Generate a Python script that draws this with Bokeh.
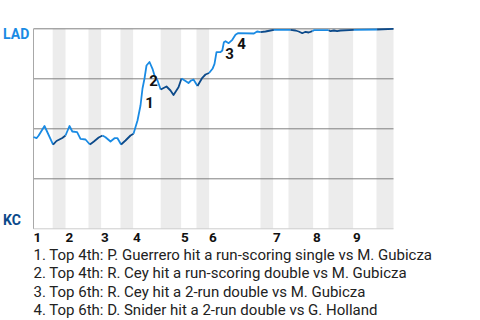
from bokeh.plotting import figure
from bokeh.models import Range1d, Label
from bokeh.embed import file_html
from bokeh.resources import INLINE

# ---- data ----
teams = ["LAD", "KC"]
team_colors = ["#1a8be4", "#0c4a8a"]
innings = ["1", "2", "3", "4", "5", "6", "7", "8", "9"]
# play index where each half-inning starts
top_start = [0, 8, 16.9, 24.9, 36.9, 43.9, 59.9, 69.9, 79.9]
bottom_start = [4.8, 13.75, 21.75, 31.8, 40.75, 56.75, 63.75, 73.75, 85.75]
game_end = 90

play_x = [0, 0.75, 1.3, 2.75, 4.9, 5.75, 7.2, 8, 9, 9.7, 10.9, 11.75, 13, 14.1, 15.1,
          16.3, 17.25, 18, 19.25, 20.25, 21, 21.9, 23, 24.25, 25, 26, 26.75, 27.25,
          27.75, 28.25, 29, 29.75, 30.25, 31, 31.8, 33.25, 34.25, 35, 36.25, 37, 38,
          38.75, 39.4, 40, 41, 42.2, 43, 43.9, 44.75, 45.25, 45.75, 46.75, 47.2, 47.6,
          48, 48.8, 49.7, 50.5, 51.1, 55.1, 55.9, 56.75, 58, 59.25, 60.1, 64.25, 65.5,
          66.3, 67.2, 68, 68.8, 69.7, 70.1, 73.8, 74.25, 75.1, 75.9, 76.75, 80.1, 85.9, 90]
win_prob = [45.9, 45.3, 46.65, 51.4, 42.05, 43.9, 45.4, 46.65, 51.4, 48.65, 48.3, 45.0,
            44.65, 42.15, 43.65, 45.65, 46.65, 45.8, 43.65, 45.3, 45.3, 42.15, 44.15,
            46.65, 47.5, 54.15, 61.65, 70.15, 75.15, 81.65, 83.4, 80.0, 76.65, 74.15,
            69.65, 71.15, 69.15, 66.9, 70.8, 75.15, 73.9, 72.9, 74.15, 74.65, 71.4,
            75.5, 77.15, 77.9, 80.0, 82.5, 88.3, 88.3, 89.15, 93.3, 93.8, 92.8, 94.5,
            97.0, 97.8, 97.65, 98.65, 98.3, 98.65, 99.15, 99.5, 99.5, 99.15, 98.65,
            97.8, 98.5, 98.15, 98.8, 99.3, 99.3, 98.8, 99.15, 98.8, 99.15, 99.5, 99.65,
            100]

event_labels = ["1", "2", "3", "4"]
event_x = [29, 30, 49, 52]
event_wp = [63.2, 74.2, 87.9, 92.7]

notes = [
    "1. Top 4th: P. Guerrero hit a run-scoring single vs M. Gubicza",
    "2. Top 4th: R. Cey hit a run-scoring double vs M. Gubicza",
    "3. Top 6th: R. Cey hit a 2-run double vs M. Gubicza",
    "4. Top 6th: D. Snider hit a 2-run double vs G. Holland",
]

FONT = "Roboto"

# the frame covers the whole canvas; the chart area spans x 0..90, y 0..100
p = figure(width=480, height=320, output_backend="svg", toolbar_location=None,
           x_range=Range1d(-8.25, 111.75), y_range=Range1d(-45.85, 114.15),
           x_axis_location=None, y_axis_location=None,
           min_border=0)
p.outline_line_color = None
p.grid.visible = False
p.background_fill_color = "white"
p.border_fill_color = "white"

# bottom-half bands
bottom_end = top_start[1:] + [game_end]
p.quad(left=bottom_start, right=bottom_end, bottom=0, top=100,
       fill_color="#ececec", line_color=None)

# grid lines
grid_y = [25, 50, 75, 100]
p.segment(x0=[0] * 4, x1=[game_end] * 4, y0=grid_y, y1=grid_y,
          line_color="#808080", line_width=1)
p.segment(x0=[0], x1=[game_end], y0=[0], y1=[0], line_color="#cccccc", line_width=1)
p.segment(x0=[0], x1=[0], y0=[0], y1=[100], line_color="#a8a8a8", line_width=1)

# line split into runs by batting team
def is_bottom(xm):
    for b, e in zip(bottom_start, bottom_end):
        if b <= xm < e:
            return True
    return False

xs, ys, cols = [], [], []
cur_x, cur_y, cur_c = [play_x[0]], [win_prob[0]], None
for i in range(len(play_x) - 1):
    xm = (play_x[i] + play_x[i + 1]) / 2
    c = team_colors[1] if is_bottom(xm) else team_colors[0]
    if cur_c is None:
        cur_c = c
    if c != cur_c:
        xs.append(cur_x); ys.append(cur_y); cols.append(cur_c)
        cur_x, cur_y, cur_c = [play_x[i]], [win_prob[i]], c
    cur_x.append(play_x[i + 1]); cur_y.append(win_prob[i + 1])
xs.append(cur_x); ys.append(cur_y); cols.append(cur_c)

p.multi_line(xs=xs, ys=ys, line_color=cols, line_width=1.8, line_join="round")

# event labels
for t, x, y in zip(event_labels, event_x, event_wp):
    p.add_layout(Label(x=x, y=y, text=t, text_align="center", text_baseline="middle",
                       text_font=FONT, text_font_style="bold", text_font_size="15px",
                       text_color="#111111"))

# team labels
p.add_layout(Label(x=-7.6, y=97.2, text=teams[0], text_align="left",
                   text_baseline="middle", text_font=FONT, text_font_style="bold",
                   text_font_size="14px", text_color=team_colors[0]))
p.add_layout(Label(x=-7.6, y=4.2, text=teams[1], text_align="left",
                   text_baseline="middle", text_font=FONT, text_font_style="bold",
                   text_font_size="14px", text_color=team_colors[1]))

# inning labels
for t, x in zip(innings, top_start):
    p.add_layout(Label(x=x, y=-4.4, text=t, text_align="left",
                       text_baseline="middle", text_font=FONT,
                       text_font_style="bold", text_font_size="13.5px",
                       text_color="#111111"))

# notes
for i, n in enumerate(notes):
    p.add_layout(Label(x=0, y=-13.1 - 9.15 * i, text=n, text_align="left",
                       text_baseline="middle", text_font=FONT,
                       text_font_size="15px", text_color="#222222"))

open("out.html", "w").write(file_html(p, INLINE))
